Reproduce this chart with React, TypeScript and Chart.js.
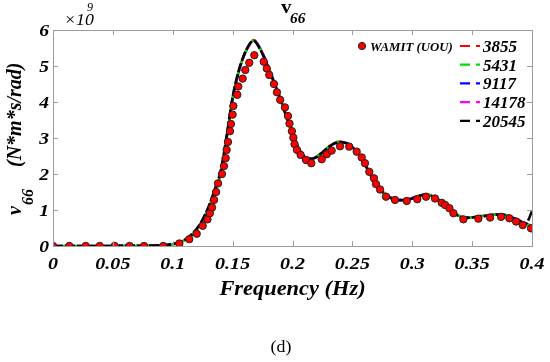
import React, { useEffect, useRef } from 'react';
import { Chart, registerables } from 'chart.js';

Chart.register(...registerables);

// WAMIT (UOU) reference points (frequency in Hz, value in 1e9 N*m*s/rad)
const WAMIT_FREQ = [
  0, 0.0136, 0.0273, 0.039, 0.0515, 0.064, 0.076, 0.092, 0.1055, 0.1138,
  0.12, 0.125, 0.129, 0.131, 0.1328, 0.1345, 0.1362, 0.1378, 0.1411, 0.1428,
  0.1442, 0.145, 0.1461, 0.1478, 0.1486, 0.15, 0.1506, 0.1539, 0.1547, 0.1584,
  0.1606, 0.1639, 0.1681, 0.176, 0.1785, 0.1806, 0.1845, 0.187, 0.1897, 0.1937,
  0.1962, 0.1975, 0.1995, 0.2007, 0.2017, 0.2037, 0.2068, 0.2113, 0.2157, 0.2244,
  0.2286, 0.2327, 0.2397, 0.2474, 0.2536, 0.2578, 0.2605, 0.2641, 0.268, 0.2697,
  0.2731, 0.2781, 0.2856, 0.2954, 0.3042, 0.3115, 0.319, 0.3246, 0.3274, 0.331,
  0.3344, 0.3427, 0.3552, 0.365, 0.3742, 0.3811, 0.3867, 0.3923, 0.3992,
];
const WAMIT_VALUES = [
  0, 0, 0, 0, 0, 0, 0, 0, 0.07, 0.19,
  0.34, 0.56, 0.74, 0.91, 1.07, 1.28, 1.5, 1.74, 2.0, 2.22,
  2.44, 2.67, 2.89, 3.19, 3.39, 3.65, 3.89, 4.2, 4.43, 4.65,
  4.89, 5.09, 5.3, 5.12, 4.93, 4.75, 4.5, 4.27, 4.06, 3.85,
  3.61, 3.4, 3.19, 3.01, 2.83, 2.67, 2.53, 2.39, 2.3, 2.41,
  2.55, 2.65, 2.77, 2.76, 2.62, 2.46, 2.3, 2.06, 1.88, 1.72,
  1.57, 1.37, 1.28, 1.25, 1.3, 1.37, 1.32, 1.2, 1.14, 1.05,
  0.91, 0.74, 0.76, 0.79, 0.81, 0.77, 0.68, 0.58, 0.49,
];

// Model curves (frequency grid shared by the five series)
const MODEL_FREQ = [
  0, 0.02, 0.04, 0.06, 0.08, 0.09, 0.1, 0.105, 0.11, 0.115,
  0.12, 0.125, 0.13, 0.135, 0.14, 0.145, 0.15, 0.155, 0.16, 0.165,
  0.1675, 0.17, 0.175, 0.18, 0.185, 0.19, 0.195, 0.2, 0.205, 0.21,
  0.215, 0.22, 0.225, 0.23, 0.235, 0.24, 0.245, 0.25, 0.255, 0.26,
  0.265, 0.27, 0.275, 0.28, 0.285, 0.29, 0.295, 0.3, 0.305, 0.31,
  0.315, 0.32, 0.325, 0.33, 0.335, 0.34, 0.345, 0.35, 0.355, 0.36,
  0.365, 0.37, 0.375, 0.38, 0.385, 0.39, 0.395, 0.4,
];
const V_3855 = [
  0, 0, 0, 0.005, 0.01, 0.02, 0.05, 0.09, 0.16, 0.28,
  0.45, 0.7, 1.05, 1.5, 2.0, 2.98, 4.08, 4.82, 5.33, 5.64,
  5.72, 5.66, 5.36, 4.96, 4.53, 4.09, 3.61, 3.13, 2.73, 2.49,
  2.43, 2.48, 2.61, 2.75, 2.86, 2.9, 2.86, 2.75, 2.58, 2.32,
  2.0, 1.72, 1.52, 1.38, 1.3, 1.28, 1.29, 1.33, 1.39, 1.43,
  1.41, 1.33, 1.2, 1.06, 0.92, 0.82, 0.79, 0.8, 0.82, 0.84,
  0.86, 0.88, 0.88, 0.84, 0.77, 0.7, 0.62, 0.55,
];
const V_5431 = [
  0, 0, 0, 0.005, 0.01, 0.02, 0.05, 0.09, 0.16, 0.28,
  0.45, 0.7, 1.05, 1.5, 2.01, 2.99, 4.09, 4.82, 5.33, 5.64,
  5.71, 5.65, 5.35, 4.95, 4.52, 4.08, 3.6, 3.12, 2.72, 2.48,
  2.42, 2.48, 2.61, 2.75, 2.86, 2.9, 2.86, 2.75, 2.57, 2.31,
  1.99, 1.72, 1.52, 1.38, 1.3, 1.28, 1.29, 1.33, 1.39, 1.43,
  1.41, 1.33, 1.2, 1.06, 0.92, 0.82, 0.79, 0.8, 0.82, 0.84,
  0.86, 0.88, 0.88, 0.84, 0.77, 0.7, 0.62, 0.55,
];
const V_9117 = [
  0, 0, 0, 0.005, 0.01, 0.02, 0.05, 0.09, 0.16, 0.28,
  0.46, 0.71, 1.06, 1.51, 2.02, 3.0, 4.1, 4.83, 5.33, 5.64,
  5.71, 5.65, 5.35, 4.95, 4.52, 4.08, 3.6, 3.12, 2.72, 2.48,
  2.42, 2.47, 2.6, 2.74, 2.85, 2.89, 2.86, 2.75, 2.57, 2.31,
  1.99, 1.71, 1.51, 1.38, 1.3, 1.28, 1.29, 1.33, 1.39, 1.42,
  1.4, 1.33, 1.2, 1.06, 0.92, 0.82, 0.79, 0.8, 0.82, 0.84,
  0.86, 0.87, 0.87, 0.84, 0.77, 0.7, 0.62, 0.55,
];
const V_14178 = [
  0, 0, 0, 0.005, 0.01, 0.02, 0.05, 0.09, 0.17, 0.29,
  0.46, 0.71, 1.07, 1.52, 2.03, 3.01, 4.1, 4.83, 5.33, 5.64,
  5.71, 5.65, 5.35, 4.95, 4.52, 4.08, 3.6, 3.12, 2.72, 2.48,
  2.42, 2.47, 2.6, 2.74, 2.85, 2.89, 2.86, 2.75, 2.57, 2.31,
  1.99, 1.71, 1.51, 1.38, 1.3, 1.28, 1.29, 1.33, 1.39, 1.42,
  1.4, 1.33, 1.2, 1.06, 0.92, 0.82, 0.79, 0.8, 0.82, 0.84,
  0.86, 0.87, 0.87, 0.84, 0.77, 0.7, 0.62, 0.56,
];
const V_20545 = [
  0, 0, 0, 0.005, 0.01, 0.02, 0.05, 0.1, 0.17, 0.3,
  0.48, 0.74, 1.1, 1.56, 2.08, 3.06, 4.14, 4.86, 5.35, 5.65,
  5.7, 5.63, 5.33, 4.93, 4.5, 4.06, 3.58, 3.1, 2.7, 2.47,
  2.42, 2.47, 2.6, 2.74, 2.85, 2.88, 2.85, 2.74, 2.56, 2.3,
  1.98, 1.7, 1.5, 1.37, 1.29, 1.27, 1.28, 1.32, 1.38, 1.42,
  1.4, 1.32, 1.19, 1.05, 0.91, 0.81, 0.78, 0.79, 0.81, 0.83,
  0.85, 0.87, 0.87, 0.83, 0.76, 0.69, 0.62, 0.97,
];

const SERIES_NAMES = ['3855', '5431', '9117', '14178', '20545'];
const SERIES_VALUES = [V_3855, V_5431, V_9117, V_14178, V_20545];
const SERIES_COLORS = ['#ff0000', '#00dd00', '#0000ff', '#ff00ff', '#000000'];

const X_TICKS = [0, 0.05, 0.1, 0.15, 0.2, 0.25, 0.3, 0.35, 0.4];
const X_TICK_LABELS = ['0', '0.05', '0.1', '0.15', '0.2', '0.25', '0.3', '0.35', '0.4'];
const Y_TICKS = [0, 1, 2, 3, 4, 5, 6];
const Y_TICK_LABELS = ['0', '1', '2', '3', '4', '5', '6'];

const SERIF = '"Liberation Serif", "Times New Roman", serif';
const BI = (size: number) => `italic bold ${size}px ${SERIF}`;

// draw text stretched horizontally (the reference is slightly widened)
function wideText(ctx: any, text: string, x: number, y: number, align: string, sx: number) {
  ctx.save();
  ctx.translate(x, y);
  ctx.scale(sx, 1);
  ctx.textAlign = align;
  ctx.fillText(text, 0, 0);
  ctx.restore();
}

const decorPlugin = {
  id: 'decor',
  afterDraw(chart: any) {
    const { ctx, chartArea: a } = chart;
    const xs = chart.scales.x;
    const ys = chart.scales.y;
    ctx.save();
    // Box
    ctx.strokeStyle = '#9c9c9c';
    ctx.lineWidth = 1;
    ctx.setLineDash([]);
    ctx.strokeRect(Math.round(a.left) + 0.5, Math.round(a.top) + 0.5,
      Math.round(a.right - a.left), Math.round(a.bottom - a.top));
    // Inward ticks
    ctx.beginPath();
    X_TICKS.forEach((v) => {
      const px = Math.round(xs.getPixelForValue(v)) + 0.5;
      ctx.moveTo(px, a.bottom); ctx.lineTo(px, a.bottom - 5);
      ctx.moveTo(px, a.top); ctx.lineTo(px, a.top + 5);
    });
    Y_TICKS.forEach((v) => {
      const py = Math.round(ys.getPixelForValue(v)) + 0.5;
      ctx.moveTo(a.left, py); ctx.lineTo(a.left + 5, py);
      ctx.moveTo(a.right, py); ctx.lineTo(a.right - 5, py);
    });
    ctx.stroke();

    ctx.fillStyle = '#000';
    ctx.textBaseline = 'alphabetic';

    // Tick labels
    ctx.font = BI(17);
    X_TICKS.forEach((v, i) => {
      wideText(ctx, X_TICK_LABELS[i], xs.getPixelForValue(v), 269, 'center', 1.18);
    });
    Y_TICKS.forEach((v, i) => {
      wideText(ctx, Y_TICK_LABELS[i], 49, ys.getPixelForValue(v) + 5.5, 'right', 1.15);
    });

    // Legend
    ctx.beginPath();
    ctx.arc(362, 46, 3.6, 0, Math.PI * 2);
    ctx.fillStyle = '#ff0000';
    ctx.fill();
    ctx.strokeStyle = '#222';
    ctx.lineWidth = 1;
    ctx.stroke();
    ctx.fillStyle = '#000';
    ctx.font = BI(12);
    wideText(ctx, 'WAMIT (UOU)', 370, 50.5, 'left', 1.07);
    SERIES_NAMES.forEach((name, i) => {
      const cy = 46 + i * 18.7;
      ctx.strokeStyle = SERIES_COLORS[i];
      ctx.lineWidth = 2.2;
      ctx.beginPath();
      ctx.moveTo(460, cy); ctx.lineTo(470, cy);
      ctx.moveTo(476, cy); ctx.lineTo(480, cy);
      ctx.stroke();
      ctx.fillStyle = '#000';
      ctx.font = BI(17);
      ctx.fillText(name, 483, cy + 6);
    });

    // x axis title
    ctx.font = BI(20);
    wideText(ctx, 'Frequency (Hz)', (a.left + a.right) / 2, 295, 'center', 1.12);

    // Title v66
    ctx.font = `bold 19px ${SERIF}`;
    wideText(ctx, 'v', 281, 13, 'left', 1.1);
    ctx.font = BI(14);
    wideText(ctx, '66', 290, 23, 'left', 1.1);

    // x10^9
    ctx.font = `italic 17px ${SERIF}`;
    wideText(ctx, '\u00d710', 64, 25, 'left', 1.05);
    ctx.font = `italic 12px ${SERIF}`;
    ctx.textAlign = 'left';
    ctx.fillText('9', 87, 11);

    // y axis title (rotated)
    ctx.save();
    ctx.translate(21, 215);
    ctx.rotate(-Math.PI / 2);
    ctx.textAlign = 'left';
    ctx.font = BI(20);
    ctx.fillText('v', 0, 0);
    const vw = ctx.measureText('v').width;
    ctx.font = BI(16);
    ctx.fillText('66', vw + 1, 12);
    ctx.font = BI(20);
    ctx.fillText('(N*m*s/rad)', 48, 0);
    ctx.restore();

    // caption
    ctx.font = `17px ${SERIF}`;
    wideText(ctx, '(d)', 281, 352, 'center', 1.05);
    ctx.restore();
  },
};

export default function App() {
  const ref = useRef<HTMLCanvasElement>(null);
  useEffect(() => {
    if (!ref.current) return;
    const lineSets = SERIES_NAMES.map((name, i) => {
      const isBlack = i === SERIES_NAMES.length - 1;
      return {
        label: name,
        data: MODEL_FREQ.map((f, k) => ({ x: f, y: SERIES_VALUES[i][k] })),
        showLine: true,
        borderColor: SERIES_COLORS[i],
        backgroundColor: SERIES_COLORS[i],
        borderWidth: 2.6,
        borderDash: isBlack ? [10, 2] : [5, 7],
        borderDashOffset: isBlack ? 0 : i * 3 + 1,
        pointRadius: 0,
        tension: 0.3,
        order: 5 - i,
      };
    });
    const chart = new Chart(ref.current, {
      type: 'scatter',
      data: {
        datasets: [
          {
            label: 'WAMIT (UOU)',
            data: WAMIT_FREQ.map((f, k) => ({ x: f, y: WAMIT_VALUES[k] })),
            showLine: false,
            pointRadius: 3.7,
            pointBackgroundColor: '#ff0000',
            pointBorderColor: '#222',
            pointBorderWidth: 1,
            order: 0,
          } as any,
          ...lineSets,
        ],
      },
      options: {
        responsive: false,
        animation: false,
        layout: { padding: { left: 0, right: 18, top: 30, bottom: 0 } },
        plugins: { legend: { display: false }, tooltip: { enabled: false }, title: { display: false } },
        scales: {
          x: {
            type: 'linear',
            min: 0,
            max: 0.4,
            grid: { display: false, drawTicks: false },
            border: { display: false },
            afterFit: (s: any) => { s.height = 116; },
            afterBuildTicks: (s: any) => { s.ticks = X_TICKS.map((v) => ({ value: v })); },
            ticks: { display: false },
          },
          y: {
            type: 'linear',
            min: 0,
            max: 6,
            grid: { display: false, drawTicks: false },
            border: { display: false },
            afterFit: (s: any) => { s.width = 53; },
            afterBuildTicks: (s: any) => { s.ticks = Y_TICKS.map((v) => ({ value: v })); },
            ticks: { display: false },
          },
        },
      },
      plugins: [decorPlugin],
    } as any);
    return () => chart.destroy();
  }, []);
  return (
    <div style={{ position: 'absolute', left: 0, top: 0, width: 550, height: 362, background: '#fff' }}>
      <canvas ref={ref} width={550} height={362} style={{ display: 'block' }} />
    </div>
  );
}
